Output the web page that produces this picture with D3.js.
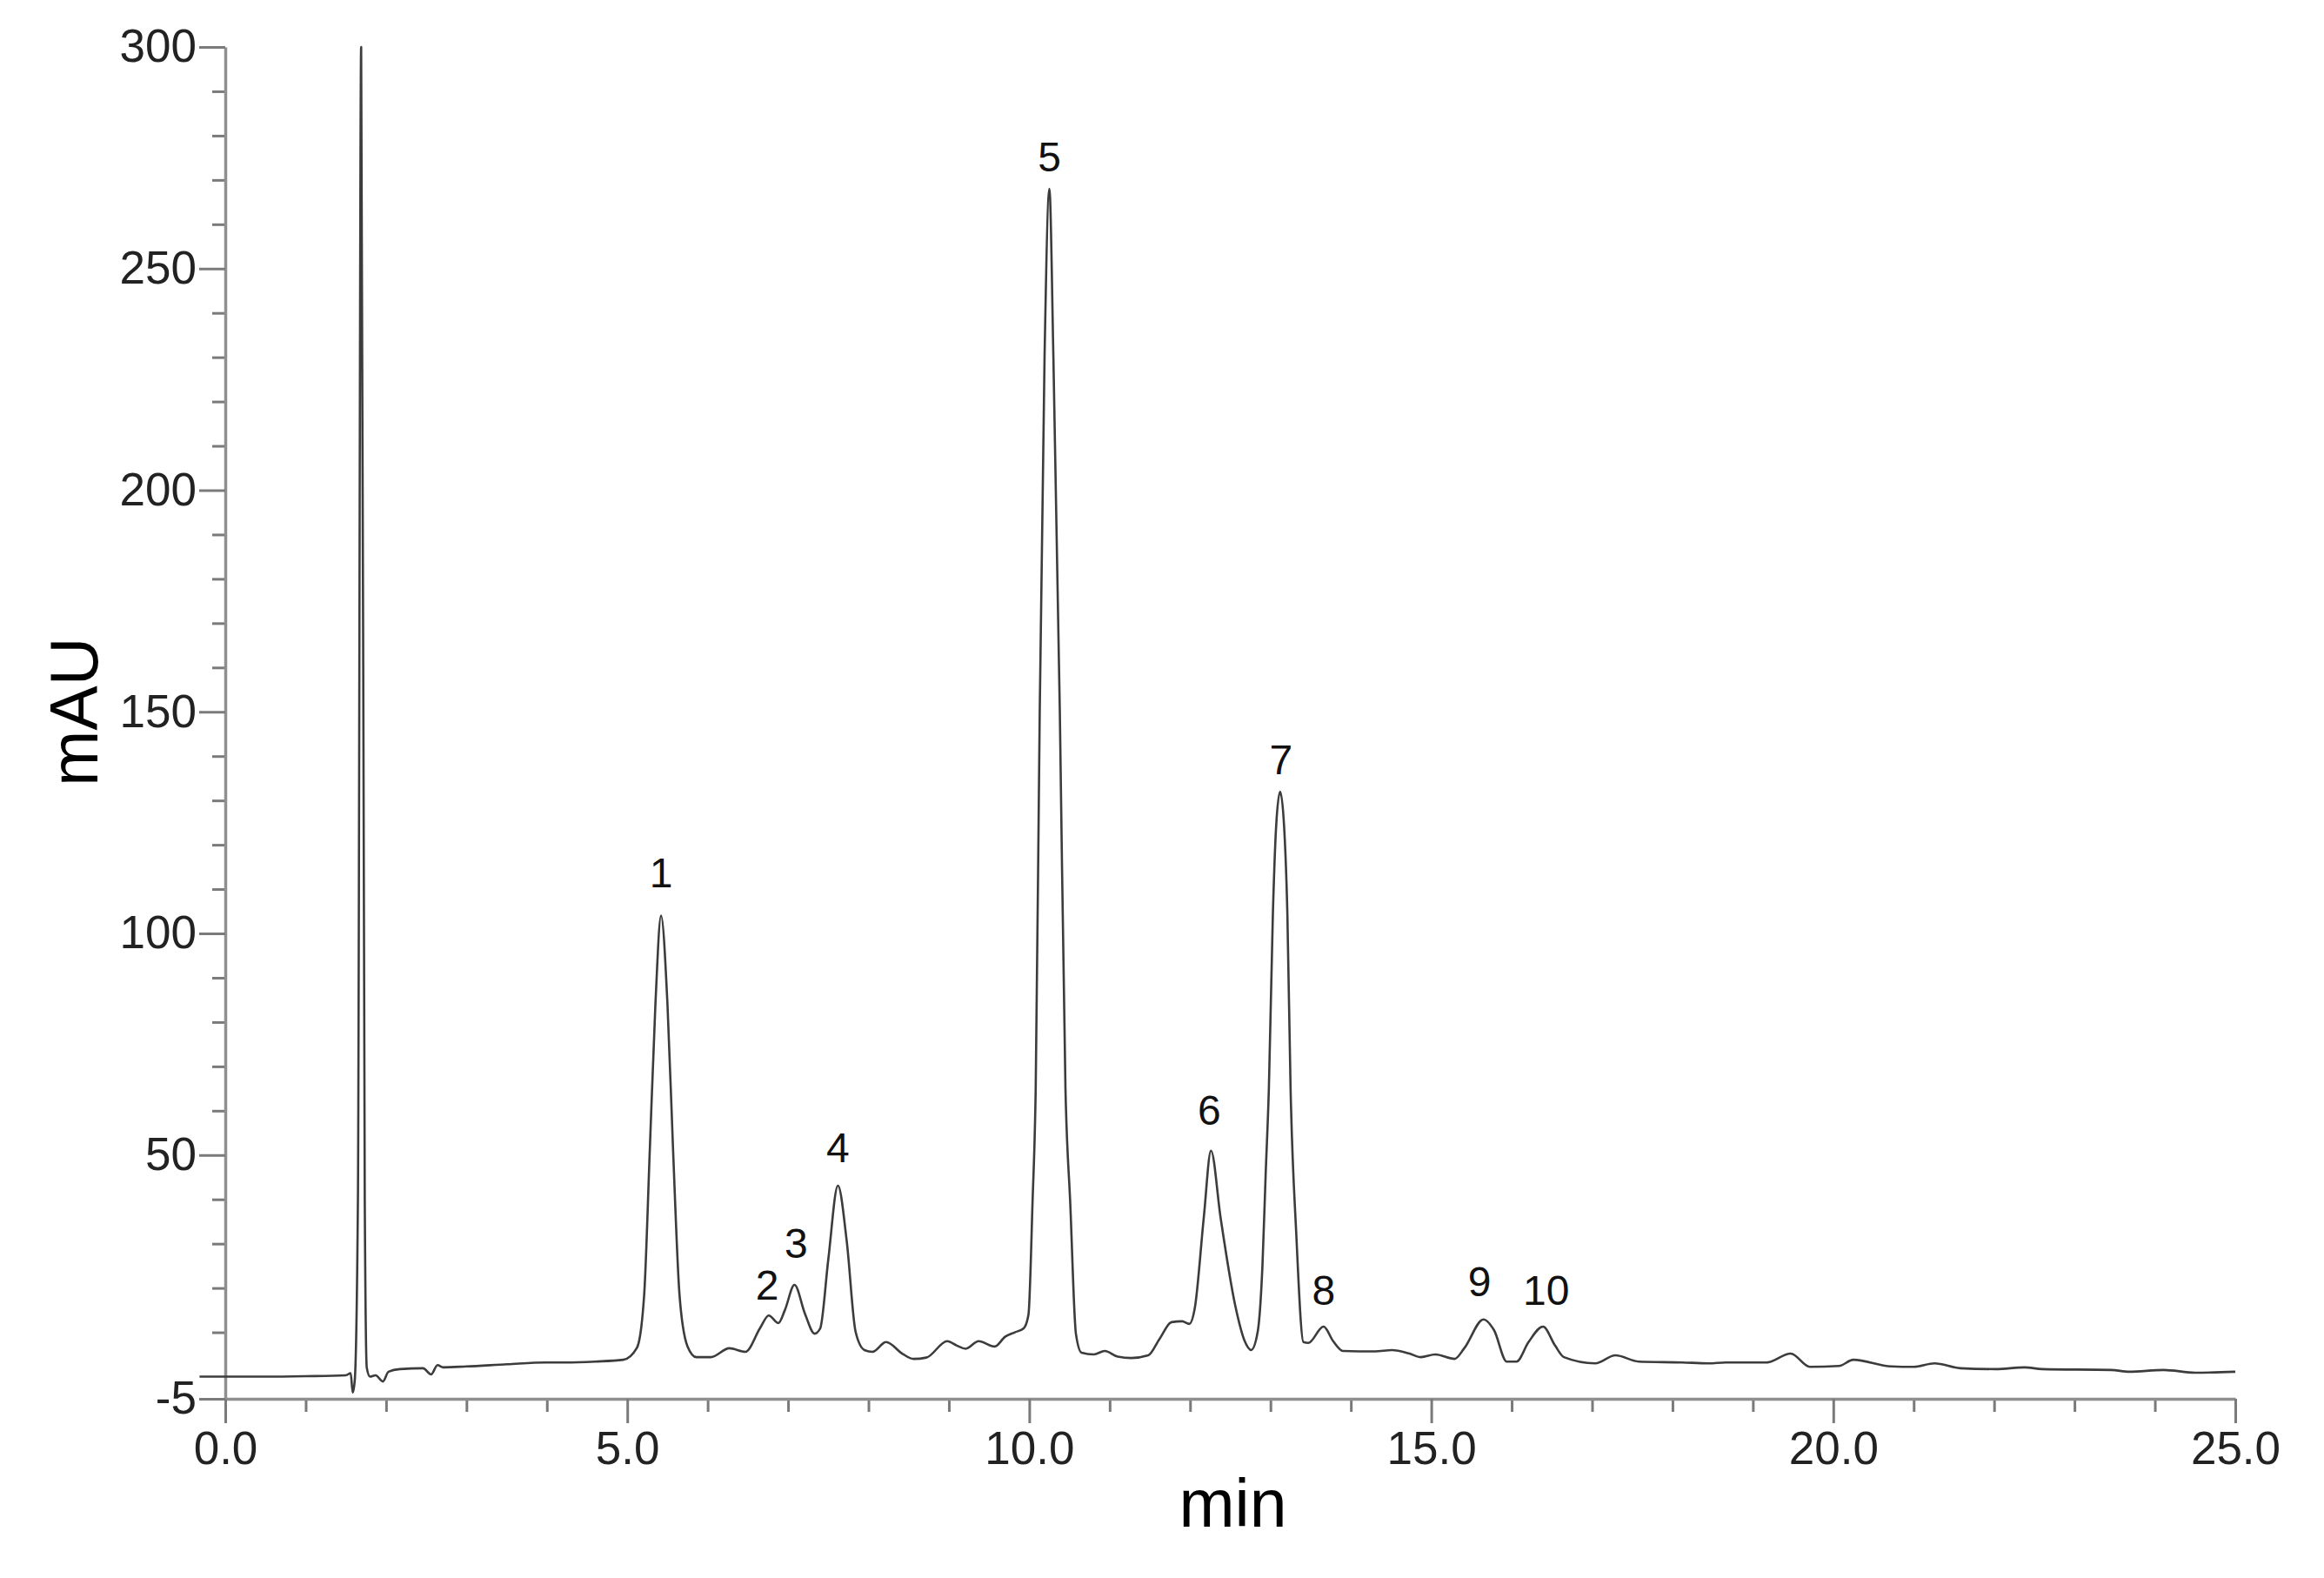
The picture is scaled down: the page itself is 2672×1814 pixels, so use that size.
<!DOCTYPE html>
<html>
<head>
<meta charset="utf-8">
<title>HPLC chromatogram</title>
<script src="https://cdn.jsdelivr.net/npm/d3@7"></script>
<style>
body { margin: 0; background: #fff; }
svg text { font-family: "Liberation Sans", Arial, sans-serif; }
.axis .domain { stroke: #8f8f8f; stroke-width: 3.5; }
.axis line { stroke: #7a7a7a; stroke-width: 3; }
.axis text { fill: #222; font-size: 53px; }
.trace { fill: none; stroke: #3c3c3c; stroke-width: 2.6; stroke-linejoin: round; }
.peak-label { fill: #111; font-size: 48px; text-anchor: middle; }
.title { fill: #000; font-size: 77px; text-anchor: middle; }
</style>
</head>
<body>
<svg id="chart"></svg>
<script>
// retention time (min) and absorbance (mAU)
var times = [-0.32, 0.5, 1.0, 1.5, 1.56, 1.585, 1.61, 1.65, 1.69, 1.735, 1.76, 1.80, 1.87, 1.96, 2.03, 2.17,
  2.46, 2.56, 2.64, 2.71, 3.0, 3.51, 3.98, 4.23, 4.6, 4.95, 5.12, 5.21, 5.28, 5.35, 5.42, 5.50, 5.57, 5.65,
  5.75, 5.86, 6.04, 6.27, 6.47, 6.65, 6.76, 6.88, 6.96, 7.08, 7.21, 7.33, 7.40, 7.50, 7.62, 7.73, 7.84, 7.95,
  8.05, 8.22, 8.42, 8.56, 8.72, 8.98, 9.10, 9.21, 9.37, 9.57, 9.70, 9.82, 9.93, 9.99, 10.04, 10.08, 10.13,
  10.19, 10.25, 10.30, 10.38, 10.45, 10.51, 10.58, 10.65, 10.80, 10.94, 11.10, 11.27, 11.48, 11.62, 11.77,
  11.90, 11.99, 12.06, 12.17, 12.26, 12.38, 12.56, 12.68, 12.76, 12.84, 12.90, 12.94, 12.98, 13.03, 13.07,
  13.12, 13.17, 13.21, 13.25, 13.32, 13.41, 13.47, 13.66, 13.78, 13.90, 14.30, 14.51, 14.73, 14.87, 15.05,
  15.29, 15.41, 15.65, 15.78, 15.94, 16.06, 16.21, 16.39, 16.54, 16.65, 17.04, 17.29, 17.58, 18.12, 18.45,
  18.66, 19.17, 19.47, 19.71, 20.07, 20.25, 20.72, 21.0, 21.26, 21.58, 22.02, 22.38, 22.6, 23.46, 23.68,
  24.11, 24.5, 25.0];
var signal = [0.0, 0.0, 0.1, 0.3, 0.8, -3.6, -1.0, 40, 300, 40, 2, 0, 0.3, -1.1, 1.1, 1.7,
  1.9, 0.5, 2.6, 2.1, 2.3, 2.8, 3.2, 3.2, 3.4, 3.8, 6.5, 18.4, 51, 84, 104, 84, 51, 18.4,
  6.8, 4.4, 4.4, 6.4, 5.6, 10.9, 13.8, 12.1, 15, 20.7, 14.2, 9.7, 10.9, 26.4, 43.1, 30.5, 10.1, 6.0,
  5.6, 7.8, 5.2, 4.0, 4.3, 8.0, 7.0, 6.3, 8.0, 6.8, 9.0, 10.0, 10.9, 14.0, 39, 65, 150,
  230, 268, 230, 150, 65, 39, 9.7, 5.4, 5.0, 5.8, 4.5, 4.2, 4.8, 8.5, 12.3,
  12.5, 11.9, 15.6, 35.8, 51, 35.8, 16.2, 8, 6.0, 10, 25, 45.6, 65, 104.5, 124,
  132, 124, 104.5, 65, 32.5, 7.8, 7.6, 11.3, 8, 5.8, 5.7, 6.0, 5.2, 4.4, 5.0,
  4.0, 6.4, 12.9, 10.5, 3.4, 3.4, 7.8, 11.3, 7.0, 4.4, 3.0, 4.8, 3.4, 3.2, 3.0,
  3.2, 3.2, 5.2, 2.2, 2.4, 3.8, 2.3, 2.2, 3.0, 1.9, 1.7, 2.1, 1.7, 1.5, 1.1,
  1.5, 0.9, 1.1];

// peak numbers and where they sit (time, mAU at text baseline)
var peakNames = ["1", "2", "3", "4", "5", "6", "7", "8", "9", "10"];
var peakTimes = [5.42, 6.74, 7.10, 7.62, 10.25, 12.24, 13.13, 13.66, 15.60, 16.43];
var peakLabelHeights = [110.4, 17.4, 26.8, 48.4, 272, 56.8, 135.9, 16.2, 18.2, 16.2];

var xMajor = [0, 5, 10, 15, 20, 25];
var yMajor = [-5, 50, 100, 150, 200, 250, 300];
var xMinor = d3.range(1, 25, 1).filter(function(v) { return v % 5 !== 0; });
var yMinor = d3.range(10, 300, 10).filter(function(v) { return v % 50 !== 0; });

var width = 2672, height = 1814;
var margin = {top: 54, right: 102, bottom: 206, left: 259};

var svg = d3.select("#chart")
  .attr("width", width)
  .attr("height", height);

svg.append("rect").attr("width", width).attr("height", height).attr("fill", "#fff");

var x = d3.scaleLinear().domain([0, 25]).range([margin.left, width - margin.right]);
var y = d3.scaleLinear().domain([-5, 300]).range([height - margin.bottom, margin.top]);

// minor ticks first, then the labelled axes on top
svg.append("g")
  .attr("class", "axis")
  .attr("transform", "translate(0," + y(-5) + ")")
  .call(d3.axisBottom(x).tickValues(xMinor).tickSize(15).tickFormat(""))
  .select(".domain").remove();

svg.append("g")
  .attr("class", "axis")
  .attr("transform", "translate(" + x(0) + ",0)")
  .call(d3.axisLeft(y).tickValues(yMinor).tickSize(15).tickFormat(""))
  .select(".domain").remove();

svg.append("g")
  .attr("class", "axis")
  .attr("transform", "translate(0," + y(-5) + ")")
  .call(d3.axisBottom(x).tickValues(xMajor).tickSize(28).tickSizeOuter(0).tickPadding(9)
    .tickFormat(function(d) { return d.toFixed(1); }));

// plain hyphen for the minus, as in the instrument export
svg.append("g")
  .attr("class", "axis")
  .attr("transform", "translate(" + x(0) + ",0)")
  .call(d3.axisLeft(y).tickValues(yMajor).tickSize(30).tickSizeOuter(0).tickPadding(3)
    .tickFormat(function(d) { return String(d); }));

var pts = times.map(function(t, i) { return [t, signal[i]]; });

var line = d3.line()
  .x(function(d) { return x(d[0]); })
  .y(function(d) { return y(d[1]); })
  .curve(d3.curveMonotoneX);

svg.append("path")
  .datum(pts)
  .attr("class", "trace")
  .attr("d", line);

svg.append("g")
  .selectAll("text")
  .data(peakNames)
  .enter().append("text")
  .attr("class", "peak-label")
  .attr("x", function(d, i) { return x(peakTimes[i]); })
  .attr("y", function(d, i) { return y(peakLabelHeights[i]); })
  .text(function(d) { return d; });

svg.append("text")
  .attr("class", "title")
  .attr("x", x(12.5) + 3)
  .attr("y", 1755)
  .text("min");

svg.append("text")
  .attr("class", "title")
  .attr("transform", "translate(112," + y(150) + ") rotate(-90)")
  .text("mAU");
</script>
</body>
</html>
